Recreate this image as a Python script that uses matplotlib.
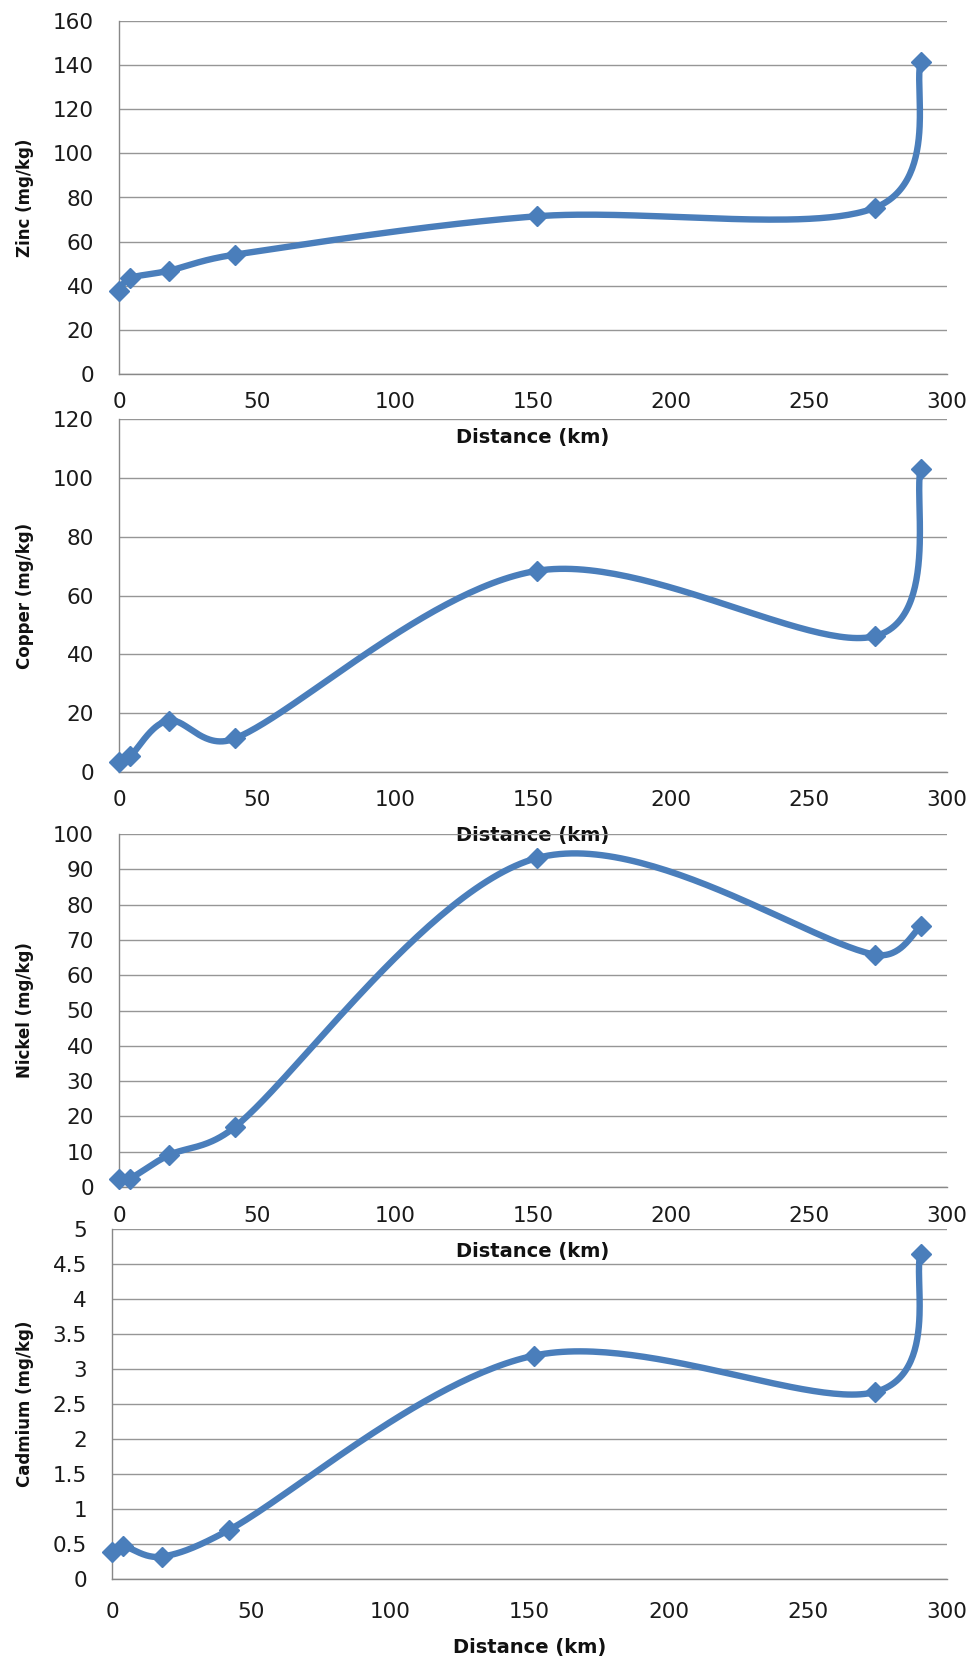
import numpy as np
import matplotlib
matplotlib.use("Agg")
import matplotlib.pyplot as plt

# ---- data ----
distance_km = [0, 4, 18, 42, 151.5, 274, 290.5]
zinc = [37.4, 43.4, 46.8, 54.1, 71.5, 75.4, 141.5]
copper = [3.3, 5.3, 17.5, 11.4, 68.4, 46.2, 103.1]
nickel = [2.4, 2.4, 9.0, 17.0, 93.2, 65.8, 73.8]
cadmium = [0.39, 0.47, 0.32, 0.70, 3.19, 2.67, 4.64]

x_ticks = [0, 50, 100, 150, 200, 250, 300]
zinc_ticks = [0, 20, 40, 60, 80, 100, 120, 140, 160]
copper_ticks = [0, 20, 40, 60, 80, 100, 120]
nickel_ticks = [0, 10, 20, 30, 40, 50, 60, 70, 80, 90, 100]
cadmium_ticks = [0, 0.5, 1, 1.5, 2, 2.5, 3, 3.5, 4, 4.5, 5]
cadmium_labels = ["0", "0.5", "1", "1.5", "2", "2.5", "3", "3.5", "4", "4.5", "5"]

ylabels = ["Zinc (mg/kg)", "Copper (mg/kg)", "Nickel (mg/kg)", "Cadmium (mg/kg)"]
xlabel = "Distance (km)"

LINE = "#4A7EBB"
GRID = "#969696"

W, H = 976, 1662
fig = plt.figure(figsize=(W / 100, H / 100), dpi=100)

# panel boxes in pixels: (left, top, right, bottom)
boxes = [(119, 21, 947, 374), (119, 419, 947, 772), (119, 834, 947, 1187), (112, 1229, 947, 1579)]
xlab_off = [63, 64, 65, 68]
xtick_off = [31, 30, 31, 35]

series = [zinc, copper, nickel, cadmium]
yticks = [zinc_ticks, copper_ticks, nickel_ticks, cadmium_ticks]
ytlabels = [[str(v) for v in zinc_ticks], [str(v) for v in copper_ticks],
            [str(v) for v in nickel_ticks], cadmium_labels]


def excel_smooth(ax, xs, ys, n=60):
    pts = ax.transData.transform(np.column_stack([xs, ys]))
    N = len(pts)
    out = [pts[0]]
    t = np.linspace(0, 1, n)[1:][:, None]
    for i in range(N - 1):
        p0 = pts[i - 1] if i > 0 else pts[i]
        p1 = pts[i]
        p2 = pts[i + 1]
        p3 = pts[i + 2] if i + 2 < N else pts[i + 1]
        d12 = np.linalg.norm(p2 - p1)
        a = (p2 - p0) / 6.0
        b = (p3 - p1) / 6.0
        la, lb = np.linalg.norm(a), np.linalg.norm(b)
        if la > d12 / 2 and la > 0:
            a = a * (d12 / 2) / la
        if lb > d12 / 2 and lb > 0:
            b = b * (d12 / 2) / lb
        c1 = p1 + a
        c2 = p2 - b
        seg = ((1 - t) ** 3) * p1 + 3 * ((1 - t) ** 2) * t * c1 + 3 * (1 - t) * t ** 2 * c2 + t ** 3 * p2
        out.extend(seg)
    out = np.array(out)
    return ax.transData.inverted().transform(out)


for k in range(4):
    l, t_, r, b = boxes[k]
    ax = fig.add_axes([l / W, 1 - b / H, (r - l) / W, (b - t_) / H])
    ax.set_facecolor("none")
    ax.set_xlim(0, 300)
    ax.set_ylim(yticks[k][0], yticks[k][-1])
    ax.set_xticks(x_ticks)
    ax.set_xticklabels([str(v) for v in x_ticks])
    ax.set_yticks(yticks[k])
    ax.set_yticklabels(ytlabels[k])
    ax.tick_params(axis="both", length=0, labelsize=15.5, colors="#1a1a1a")
    ax.tick_params(axis="y", pad=18)
    ax.tick_params(axis="x", pad=(xtick_off[k] - 12.5) * 0.72)
    for s in ["top", "right"]:
        ax.spines[s].set_visible(False)
    ax.spines["left"].set_color("#888888")
    ax.spines["bottom"].set_color("#888888")
    ax.spines["left"].set_linewidth(1.0)
    ax.spines["bottom"].set_linewidth(1.0)
    ax.yaxis.grid(True, color=GRID, linewidth=1.0)
    ax.set_axisbelow(True)

    sm = excel_smooth(ax, distance_km, series[k])
    ax.plot(sm[:, 0], sm[:, 1], color=LINE, linewidth=4.6, solid_capstyle="round", zorder=3, clip_on=False)
    ax.plot(distance_km, series[k], linestyle="none", marker="D", markersize=10,
            markerfacecolor=LINE, markeredgecolor=LINE, markeredgewidth=1, zorder=4, clip_on=False)

    ax.set_ylabel(ylabels[k], fontsize=12, fontweight="bold", color="#111111", va="center")
    ax.yaxis.set_label_coords((25 - l) / (r - l), 0.5)
    ax.set_xlabel(xlabel, fontsize=14, fontweight="bold", color="#111111", va="center")
    ax.xaxis.set_label_coords(0.5, -xlab_off[k] / (b - t_))

fig.savefig("out.png", dpi=100, facecolor="white")
